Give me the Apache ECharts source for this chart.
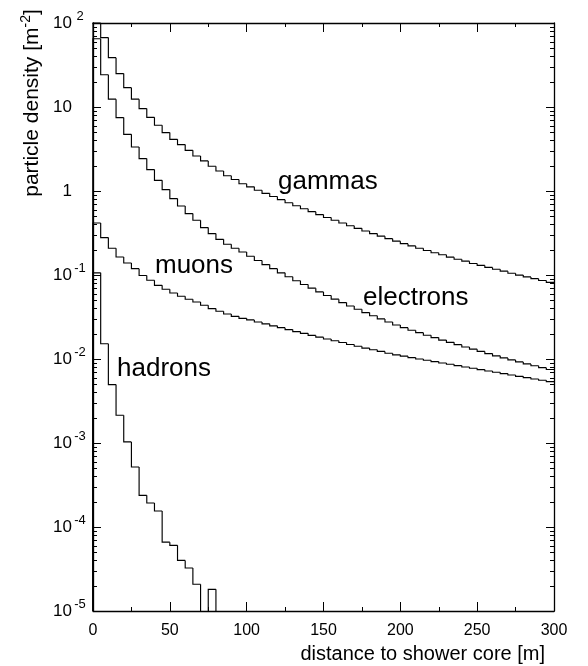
<!DOCTYPE html>
<html>
<head>
<meta charset="utf-8">
<script src="https://cdn.jsdelivr.net/npm/echarts@6/dist/echarts.min.js"></script>
<style>
  html, body { margin: 0; padding: 0; background: #ffffff; }
  #chart { width: 588px; height: 666px; }
</style>
</head>
<body>
<div id="chart"></div>
<script>
// Lateral distribution of shower particles, 5 m wide radial bins (lower bin edges in metres)
const binLowEdges = [
  0, 5, 10, 15, 20, 25, 30, 35, 40, 45, 50, 55, 60, 65, 70, 75, 80, 85, 90, 95,
  100, 105, 110, 115, 120, 125, 130, 135, 140, 145, 150, 155, 160, 165, 170, 175, 180, 185, 190, 195,
  200, 205, 210, 215, 220, 225, 230, 235, 240, 245, 250, 255, 260, 265, 270, 275, 280, 285, 290, 295
];
const binWidth = 5;

// particle densities per bin [m^-2]
const gammas = [
  140, 67.0, 38.7, 25.0, 17.0, 12.4, 9.57, 7.54, 6.06, 4.96,
  4.12, 3.57, 3.05, 2.61, 2.28, 1.97, 1.73, 1.52, 1.37, 1.22,
  1.12, 1.02, 0.937, 0.859, 0.789, 0.725, 0.667, 0.615, 0.567, 0.524,
  0.484, 0.449, 0.416, 0.386, 0.359, 0.334, 0.311, 0.290, 0.271, 0.253,
  0.236, 0.222, 0.208, 0.196, 0.184, 0.174, 0.163, 0.154, 0.146, 0.137,
  0.130, 0.123, 0.117, 0.111, 0.105, 0.0997, 0.0949, 0.0904, 0.0860, 0.0818
];
const electrons = [
  65, 24.2, 12.4, 7.48, 4.73, 3.34, 2.43, 1.80, 1.34, 1.04,
  0.812, 0.663, 0.538, 0.448, 0.367, 0.311, 0.266, 0.232, 0.208, 0.188,
  0.167, 0.149, 0.133, 0.119, 0.106, 0.0952, 0.0855, 0.0771, 0.0697, 0.0629,
  0.0570, 0.0516, 0.0469, 0.0428, 0.0391, 0.0357, 0.0327, 0.0300, 0.0276, 0.0254,
  0.0236, 0.0220, 0.0206, 0.0192, 0.0180, 0.0168, 0.0158, 0.0148, 0.0139, 0.0131,
  0.0123, 0.0116, 0.0109, 0.0103, 0.00976, 0.00924, 0.00874, 0.00830, 0.00788, 0.00750
];
const muons = [
  0.416, 0.279, 0.208, 0.164, 0.139, 0.119, 0.0986, 0.0865, 0.0754, 0.0676,
  0.0611, 0.0558, 0.0514, 0.0477, 0.0436, 0.0398, 0.0370, 0.0343, 0.0322, 0.0305,
  0.0292, 0.0276, 0.0262, 0.0248, 0.0236, 0.0224, 0.0212, 0.0202, 0.0191, 0.0182,
  0.0173, 0.0165, 0.0157, 0.0149, 0.0142, 0.0135, 0.0129, 0.0123, 0.0117, 0.0112,
  0.0108, 0.0104, 0.0100, 0.00966, 0.00931, 0.00896, 0.00865, 0.00834, 0.00803, 0.00775,
  0.00748, 0.00720, 0.00695, 0.00670, 0.00645, 0.00622, 0.00601, 0.00578, 0.00558, 0.00538
];
const hadrons = [
  0.106, 0.0152, 0.00496, 0.00214, 0.00103, 5.18e-4, 2.38e-4, 1.93e-4, 1.55e-4, 6.6e-5,
  6.05e-5, 4.0e-5, 3.25e-5, 2.08e-5, 0, 1.81e-5, 0, 0, 0, 0,
  0, 0, 0, 0, 0, 0, 0, 0, 0, 0,
  0, 0, 0, 0, 0, 0, 0, 0, 0, 0,
  0, 0, 0, 0, 0, 0, 0, 0, 0, 0,
  0, 0, 0, 0, 0, 0, 0, 0, 0, 0
];

const curveNames = ['gammas', 'electrons', 'muons', 'hadrons'];

// axis ranges
const X_MIN = 0, X_MAX = 300, X_STEP = 50;
const Y_MIN = 1e-5, Y_MAX = 1e2;

const FONT = '"Liberation Sans", Arial, Helvetica, sans-serif';
const INK = '#000000';

// one item per bin: [low edge, high edge, content, content of previous bin]
function histogramItems(values) {
  return values.map((v, i) => [
    binLowEdges[i], binLowEdges[i] + binWidth, v, i === 0 ? 0 : values[i - 1]
  ]);
}

function clampY(v) {
  if (!(v > 0)) return Y_MIN;
  return Math.min(Math.max(v, Y_MIN), Y_MAX);
}

// step outline: vertical riser at the low edge, then the flat top of the bin
function renderStep(params, api) {
  const lo = api.value(0), hi = api.value(1);
  const v = api.value(2), prev = api.value(3);
  const x0 = api.coord([lo, Y_MIN])[0];
  const x1 = api.coord([hi, Y_MIN])[0];
  const yPrev = api.coord([lo, clampY(prev)])[1];
  const yCur = api.coord([lo, clampY(v)])[1];
  const pts = [[x0, yPrev], [x0, yCur]];
  if (v > 0) pts.push([x1, yCur]);
  return {
    type: 'polyline',
    shape: { points: pts },
    style: { stroke: INK, lineWidth: 1.15, fill: null },
    silent: true
  };
}

// decade sub-divisions (2..9 x 10^n) for the log axes
const minorTickValues = [];
for (let e = Math.log10(Y_MIN); e < Math.log10(Y_MAX); e++) {
  for (let k = 2; k <= 9; k++) minorTickValues.push([X_MIN, k * Math.pow(10, e)]);
}

function renderMinorTicks(params, api) {
  const v = api.value(1);
  const pl = api.coord([X_MIN, v]);
  const pr = api.coord([X_MAX, v]);
  const y = Math.round(pl[1]) + 0.5;
  return {
    type: 'group',
    children: [
      { type: 'line', shape: { x1: pl[0], y1: y, x2: pl[0] + 4, y2: y }, style: { stroke: INK, lineWidth: 1 } },
      { type: 'line', shape: { x1: pr[0], y1: y, x2: pr[0] - 4, y2: y }, style: { stroke: INK, lineWidth: 1 } }
    ],
    silent: true
  };
}

function yLabel(value) {
  const e = Math.round(Math.log10(value));
  if (e === 0) return '{b|1}{e|\u00a0}';
  if (e === 1) return '{b|10}{e|\u00a0}';
  return '{b|10}{e|' + e + '}';
}

const axisLineStyle = { color: INK, width: 1.3 };

function xAxisDef(position, showLabels) {
  return {
    type: 'value', position: position, min: X_MIN, max: X_MAX, interval: X_STEP,
    axisLine: { show: true, onZero: false, lineStyle: axisLineStyle },
    axisTick: { show: true, inside: true, length: 9, lineStyle: { color: INK, width: 1 } },
    minorTick: { show: true, splitNumber: 2, length: 4, lineStyle: { color: INK, width: 1 } },
    splitLine: { show: false },
    minorSplitLine: { show: false },
    axisLabel: { show: showLabels, color: INK, fontFamily: FONT, fontSize: 16, margin: 12 }
  };
}

function yAxisDef(position, showLabels) {
  return {
    type: 'log', logBase: 10, position: position, min: Y_MIN, max: Y_MAX, splitNumber: 7,
    axisLine: { show: true, onZero: false, lineStyle: axisLineStyle },
    axisTick: { show: true, inside: true, length: 8, lineStyle: { color: INK, width: 1 } },
    splitLine: { show: false },
    axisLabel: {
      show: showLabels, margin: 5, formatter: yLabel,
      rich: {
        b: { fontFamily: FONT, fontSize: 17, color: INK },
        e: { fontFamily: FONT, fontSize: 13, color: INK, width: 16, align: 'left', verticalAlign: 'top', padding: [0, 0, 14, 0] }
      }
    }
  };
}

const chart = echarts.init(document.getElementById('chart'), null, { renderer: 'canvas' });

const xMain = xAxisDef('bottom', true);
xMain.name = 'distance to shower core [m]';
xMain.nameLocation = 'end';
xMain.nameGap = -9;
xMain.nameTextStyle = { color: INK, fontFamily: FONT, fontSize: 20, align: 'right', verticalAlign: 'top', padding: [33, 0, 0, 0] };

const curveSeries = [gammas, electrons, muons, hadrons].map((vals, i) => ({
  type: 'custom',
  name: curveNames[i],
  coordinateSystem: 'cartesian2d',
  xAxisIndex: 0, yAxisIndex: 0,
  clip: false,
  encode: { x: [0, 1], y: 2 },
  renderItem: renderStep,
  data: histogramItems(vals),
  z: 3
}));

const labelStyle = { fill: INK, fontFamily: FONT, fontSize: 26, align: 'left', verticalAlign: 'middle' };

chart.setOption({
  animation: false,
  backgroundColor: '#ffffff',
  grid: { left: 93, right: 34, top: 23, bottom: 55 },
  xAxis: [xMain, xAxisDef('top', false)],
  yAxis: [yAxisDef('left', true), yAxisDef('right', false)],
  series: curveSeries.concat([{
    type: 'custom',
    name: 'decade ticks',
    coordinateSystem: 'cartesian2d',
    xAxisIndex: 0, yAxisIndex: 0,
    clip: false,
    encode: { x: 0, y: 1 },
    renderItem: renderMinorTicks,
    data: minorTickValues,
    z: 4
  }]),
  graphic: [
    {
      type: 'text', x: 32, y: 103, rotation: Math.PI / 2,
      style: {
        text: '{t|particle density [m}{s|-2}{t|]}',
        align: 'center', verticalAlign: 'middle',
        rich: {
          t: { fontFamily: FONT, fontSize: 21, fill: INK },
          s: { fontFamily: FONT, fontSize: 14, fill: INK, verticalAlign: 'top', padding: [0, 0, 12, 0] }
        }
      }
    },
    { type: 'text', x: 278, y: 182, style: Object.assign({ text: curveNames[0] }, labelStyle) },
    { type: 'text', x: 363, y: 298, style: Object.assign({ text: curveNames[1] }, labelStyle) },
    { type: 'text', x: 155, y: 266, style: Object.assign({ text: curveNames[2] }, labelStyle) },
    { type: 'text', x: 117, y: 369, style: Object.assign({ text: curveNames[3] }, labelStyle) }
  ]
});
</script>
</body>
</html>
